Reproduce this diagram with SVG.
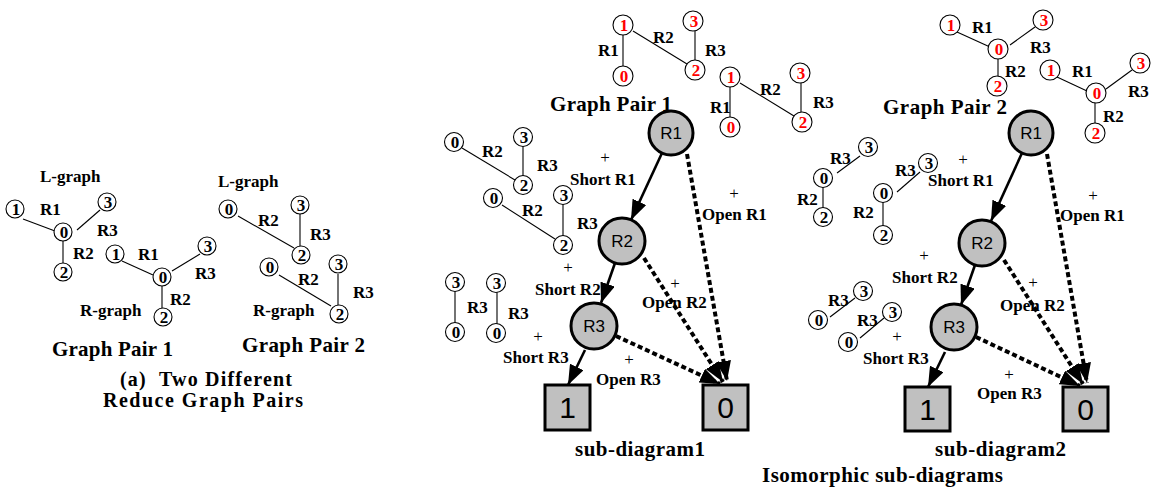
<svg xmlns="http://www.w3.org/2000/svg" width="1157" height="492" viewBox="0 0 1157 492">
  <style>
    .t { font-family: "Liberation Serif", "Times New Roman", serif; font-weight: bold; font-size: 17px; fill: #000; }
    .big { font-size: 21px; }
    .cap { font-size: 20px; }
    .plus { font-family: "Liberation Serif", "Times New Roman", serif; font-size: 17px; text-anchor: middle; fill: #000; }
    .d { font-family: "Liberation Serif", "Times New Roman", serif; font-weight: bold; font-size: 17px; text-anchor: middle; fill: #000; }
    .red { fill: #ff0000; }
    .sc { fill: #fff; stroke: #000; stroke-width: 1.1; }
    .e { stroke: #000; stroke-width: 1.1; fill: none; }
    .node { fill: #c0c0c0; stroke: #000; stroke-width: 3; }
    .nl { font-family: "Liberation Sans", Arial, sans-serif; font-size: 17px; text-anchor: middle; fill: #000; }
    .bl { font-family: "Liberation Sans", Arial, sans-serif; font-size: 30px; text-anchor: middle; fill: #000; }
    .solid { stroke: #000; stroke-width: 2.6; fill: none; marker-end: url(#head); }
    .dash { stroke: #000; stroke-width: 4; stroke-dasharray: 5 3; fill: none; marker-end: url(#head); }
  </style>
  <defs>
    <marker id="head" viewBox="0 0 20 15" refX="20" refY="7.5" markerWidth="20" markerHeight="15" markerUnits="userSpaceOnUse" orient="auto">
      <path d="M0,0 L20,7.5 L0,15 z" fill="#000"/>
    </marker>
  </defs>
  <rect width="1157" height="492" fill="#fff"/>

  <!-- (a) two reduce graph pairs -->
  <g id="pair1-lgraph">
    <text class="t" x="40" y="182">L-graph</text>
    <line class="e" x1="23" y1="219" x2="55" y2="231"/>
    <line class="e" x1="77" y1="230" x2="100" y2="210"/>
    <line class="e" x1="63" y1="241" x2="63" y2="263"/>
    <circle class="sc" cx="15" cy="209" r="9"/><text class="d" x="16" y="215">1</text>
    <circle class="sc" cx="63" cy="232" r="9"/><text class="d" x="64" y="238">0</text>
    <circle class="sc" cx="107" cy="202" r="9"/><text class="d" x="108" y="208">3</text>
    <circle class="sc" cx="63" cy="272" r="9"/><text class="d" x="64" y="278">2</text>
    <text class="t" x="40" y="215">R1</text>
    <text class="t" x="97" y="236">R3</text>
    <text class="t" x="73" y="259">R2</text>
  </g>
  <g id="pair1-rgraph">
    <line class="e" x1="122" y1="261" x2="153" y2="275"/>
    <line class="e" x1="172" y1="271" x2="200" y2="254"/>
    <line class="e" x1="162" y1="286" x2="162" y2="308"/>
    <circle class="sc" cx="115" cy="254" r="9"/><text class="d" x="116" y="260">1</text>
    <circle class="sc" cx="162" cy="277" r="9"/><text class="d" x="163" y="283">0</text>
    <circle class="sc" cx="207" cy="246" r="9"/><text class="d" x="208" y="252">3</text>
    <circle class="sc" cx="163" cy="317" r="9"/><text class="d" x="164" y="323">2</text>
    <text class="t" x="138" y="260">R1</text>
    <text class="t" x="195" y="279">R3</text>
    <text class="t" x="170" y="305">R2</text>
    <text class="t" x="80" y="316">R-graph</text>
  </g>
  <g id="pair2-lgraph">
    <text class="t" x="218" y="187">L-graph</text>
    <line class="e" x1="238" y1="216" x2="294" y2="248"/>
    <line class="e" x1="300" y1="214" x2="300" y2="246"/>
    <circle class="sc" cx="228" cy="209" r="9"/><text class="d" x="229" y="215">0</text>
    <circle class="sc" cx="300" cy="205" r="9"/><text class="d" x="301" y="211">3</text>
    <circle class="sc" cx="301" cy="255" r="9"/><text class="d" x="302" y="261">2</text>
    <text class="t" x="258" y="226">R2</text>
    <text class="t" x="310" y="240">R3</text>
  </g>
  <g id="pair2-rgraph">
    <line class="e" x1="279" y1="275" x2="331" y2="306"/>
    <line class="e" x1="338" y1="274" x2="338" y2="305"/>
    <circle class="sc" cx="269" cy="267" r="9"/><text class="d" x="270" y="273">0</text>
    <circle class="sc" cx="338" cy="264" r="9"/><text class="d" x="339" y="270">3</text>
    <circle class="sc" cx="339" cy="314" r="9"/><text class="d" x="340" y="320">2</text>
    <text class="t" x="298" y="285">R2</text>
    <text class="t" x="353" y="298">R3</text>
    <text class="t" x="253" y="316">R-graph</text>
  </g>
  <g id="caption-a">
    <text class="t big" x="52" y="356" textLength="121">Graph Pair 1</text>
    <text class="t big" x="242" y="352" textLength="123">Graph Pair 2</text>
    <text class="t cap" x="120" y="386" textLength="172" xml:space="preserve">(a)  Two Different</text>
    <text class="t cap" x="103" y="407" textLength="200">Reduce Graph Pairs</text>
  </g>

  <!-- sub-diagram 1: small graphs -->
  <g id="s1-pair-a">
    <line class="e" x1="623" y1="35" x2="623" y2="66"/>
    <line class="e" x1="633" y1="31" x2="687" y2="64"/>
    <line class="e" x1="695" y1="31" x2="695" y2="60"/>
    <circle class="sc" cx="623" cy="25" r="10"/><text class="d red" x="624" y="31">1</text>
    <circle class="sc" cx="693" cy="21" r="10"/><text class="d red" x="694" y="27">3</text>
    <circle class="sc" cx="623" cy="76" r="10"/><text class="d red" x="624" y="82">0</text>
    <circle class="sc" cx="695" cy="70" r="10"/><text class="d red" x="696" y="76">2</text>
    <text class="t" x="598" y="56">R1</text>
    <text class="t" x="653" y="43">R2</text>
    <text class="t" x="705" y="56">R3</text>
  </g>
  <g id="s1-pair-b">
    <line class="e" x1="730" y1="87" x2="730" y2="117"/>
    <line class="e" x1="740" y1="83" x2="794" y2="116"/>
    <line class="e" x1="801" y1="83" x2="801" y2="112"/>
    <circle class="sc" cx="730" cy="77" r="10"/><text class="d red" x="731" y="83">1</text>
    <circle class="sc" cx="800" cy="73" r="10"/><text class="d red" x="801" y="79">3</text>
    <circle class="sc" cx="730" cy="127" r="10"/><text class="d red" x="731" y="133">0</text>
    <circle class="sc" cx="802" cy="122" r="10"/><text class="d red" x="803" y="128">2</text>
    <text class="t" x="710" y="113">R1</text>
    <text class="t" x="760" y="95">R2</text>
    <text class="t" x="813" y="108">R3</text>
  </g>
  <text class="t big" x="550" y="111" textLength="122">Graph Pair 1</text>
  <g id="s1-frag-1">
    <line class="e" x1="462" y1="148" x2="515" y2="180"/>
    <line class="e" x1="523" y1="146" x2="523" y2="176"/>
    <circle class="sc" cx="454" cy="142" r="9.5"/><text class="d" x="455" y="148">0</text>
    <circle class="sc" cx="523" cy="137" r="9.5"/><text class="d" x="524" y="143">3</text>
    <circle class="sc" cx="523" cy="185" r="9.5"/><text class="d" x="524" y="191">2</text>
    <text class="t" x="482" y="157">R2</text>
    <text class="t" x="537" y="171">R3</text>
  </g>
  <g id="s1-frag-2">
    <line class="e" x1="502" y1="205" x2="555" y2="239"/>
    <line class="e" x1="563" y1="204" x2="563" y2="236"/>
    <circle class="sc" cx="493" cy="198" r="9.5"/><text class="d" x="494" y="204">0</text>
    <circle class="sc" cx="563" cy="195" r="9.5"/><text class="d" x="564" y="201">3</text>
    <circle class="sc" cx="563" cy="245" r="9.5"/><text class="d" x="564" y="251">2</text>
    <text class="t" x="522" y="216">R2</text>
    <text class="t" x="577" y="229">R3</text>
  </g>
  <g id="s1-frag-3">
    <line class="e" x1="455" y1="291" x2="455" y2="323"/>
    <circle class="sc" cx="455" cy="282" r="9.5"/><text class="d" x="456" y="288">3</text>
    <circle class="sc" cx="455" cy="332" r="9.5"/><text class="d" x="456" y="338">0</text>
    <text class="t" x="467" y="313">R3</text>
  </g>
  <g id="s1-frag-4">
    <line class="e" x1="497" y1="292" x2="497" y2="324"/>
    <circle class="sc" cx="496" cy="283" r="9.5"/><text class="d" x="497" y="289">3</text>
    <circle class="sc" cx="496" cy="333" r="9.5"/><text class="d" x="497" y="339">0</text>
    <text class="t" x="508" y="319">R3</text>
  </g>

  <!-- sub-diagram 2: small graphs -->
  <g id="s2-pair-a">
    <line class="e" x1="957" y1="32" x2="990" y2="47"/>
    <line class="e" x1="1010" y1="45" x2="1035" y2="27"/>
    <line class="e" x1="998" y1="58" x2="998" y2="77"/>
    <circle class="sc" cx="950" cy="25" r="10"/><text class="d red" x="951" y="31">1</text>
    <circle class="sc" cx="998" cy="49" r="10"/><text class="d red" x="999" y="55">0</text>
    <circle class="sc" cx="1043" cy="20" r="10"/><text class="d red" x="1044" y="26">3</text>
    <circle class="sc" cx="997" cy="86" r="10"/><text class="d red" x="998" y="92">2</text>
    <text class="t" x="972" y="33">R1</text>
    <text class="t" x="1030" y="53">R3</text>
    <text class="t" x="1005" y="77">R2</text>
  </g>
  <g id="s2-pair-b">
    <line class="e" x1="1057" y1="77" x2="1087" y2="91"/>
    <line class="e" x1="1106" y1="89" x2="1132" y2="70"/>
    <line class="e" x1="1095" y1="102" x2="1095" y2="124"/>
    <circle class="sc" cx="1050" cy="70" r="10"/><text class="d red" x="1051" y="76">1</text>
    <circle class="sc" cx="1096" cy="93" r="10"/><text class="d red" x="1097" y="99">0</text>
    <circle class="sc" cx="1140" cy="63" r="10"/><text class="d red" x="1141" y="69">3</text>
    <circle class="sc" cx="1095" cy="133" r="10"/><text class="d red" x="1096" y="139">2</text>
    <text class="t" x="1072" y="77">R1</text>
    <text class="t" x="1128" y="97">R3</text>
    <text class="t" x="1103" y="122">R2</text>
  </g>
  <text class="t big" x="883" y="114" textLength="124">Graph Pair 2</text>
  <g id="s2-frag-1">
    <line class="e" x1="837" y1="173" x2="860" y2="156"/>
    <line class="e" x1="823" y1="187" x2="823" y2="208"/>
    <circle class="sc" cx="868" cy="147" r="9.5"/><text class="d" x="869" y="153">3</text>
    <circle class="sc" cx="823" cy="178" r="9.5"/><text class="d" x="824" y="184">0</text>
    <circle class="sc" cx="823" cy="217" r="9.5"/><text class="d" x="824" y="223">2</text>
    <text class="t" x="830" y="164">R3</text>
    <text class="t" x="797" y="205">R2</text>
  </g>
  <g id="s2-frag-2">
    <line class="e" x1="897" y1="192" x2="920" y2="172"/>
    <line class="e" x1="883" y1="202" x2="883" y2="226"/>
    <circle class="sc" cx="928" cy="163" r="9.5"/><text class="d" x="929" y="169">3</text>
    <circle class="sc" cx="883" cy="193" r="9.5"/><text class="d" x="884" y="199">0</text>
    <circle class="sc" cx="883" cy="235" r="9.5"/><text class="d" x="884" y="241">2</text>
    <text class="t" x="895" y="176">R3</text>
    <text class="t" x="853" y="218">R2</text>
  </g>
  <g id="s2-frag-3">
    <line class="e" x1="830" y1="317" x2="855" y2="298"/>
    <circle class="sc" cx="863" cy="291" r="9.5"/><text class="d" x="864" y="297">3</text>
    <circle class="sc" cx="818" cy="320" r="9.5"/><text class="d" x="819" y="326">0</text>
    <text class="t" x="828" y="306">R3</text>
  </g>
  <g id="s2-frag-4">
    <line class="e" x1="860" y1="338" x2="884" y2="318"/>
    <circle class="sc" cx="892" cy="312" r="9.5"/><text class="d" x="893" y="318">3</text>
    <circle class="sc" cx="848" cy="342" r="9.5"/><text class="d" x="849" y="348">0</text>
    <text class="t" x="857" y="326">R3</text>
  </g>

  <!-- connectors of both sub-diagrams -->
  <g id="connectors">
    <line class="solid" x1="662" y1="153" x2="631" y2="220"/>
    <line class="solid" x1="615" y1="263" x2="601" y2="303"/>
    <line class="solid" x1="585" y1="350" x2="568" y2="385"/>
    <line class="dash" x1="687" y1="154" x2="727" y2="381"/>
    <line class="dash" x1="644" y1="258" x2="723" y2="382"/>
    <line class="dash" x1="616" y1="336" x2="720" y2="384"/>

    <line class="solid" x1="1022" y1="153" x2="991" y2="221"/>
    <line class="solid" x1="975" y1="265" x2="961" y2="305"/>
    <line class="solid" x1="945" y1="352" x2="928" y2="387"/>
    <line class="dash" x1="1047" y1="154" x2="1087" y2="383"/>
    <line class="dash" x1="1004" y1="260" x2="1083" y2="384"/>
    <line class="dash" x1="976" y1="337" x2="1080" y2="386"/>
  </g>

  <!-- connector labels -->
  <g id="labels-s1">
    <text class="plus" x="605" y="163">+</text><text class="t" x="570" y="185">Short R1</text>
    <text class="plus" x="734" y="199">+</text><text class="t" x="702" y="220">Open R1</text>
    <text class="plus" x="568" y="273">+</text><text class="t" x="535" y="295">Short R2</text>
    <text class="plus" x="675" y="289">+</text><text class="t" x="642" y="308">Open R2</text>
    <text class="plus" x="538" y="342">+</text><text class="t" x="503" y="363">Short R3</text>
    <text class="plus" x="629" y="365">+</text><text class="t" x="596" y="385">Open R3</text>
  </g>
  <g id="labels-s2">
    <text class="plus" x="963" y="165">+</text><text class="t" x="928" y="186">Short R1</text>
    <text class="plus" x="1093" y="201">+</text><text class="t" x="1060" y="221">Open R1</text>
    <text class="plus" x="924" y="261">+</text><text class="t" x="892" y="283">Short R2</text>
    <text class="plus" x="1033" y="288">+</text><text class="t" x="1000" y="311">Open R2</text>
    <text class="plus" x="897" y="342">+</text><text class="t" x="863" y="364">Short R3</text>
    <text class="plus" x="1009" y="380">+</text><text class="t" x="977" y="399">Open R3</text>
  </g>

  <!-- decision nodes, sub-diagram 1 -->
  <g id="s1-R1"><circle class="node" cx="671" cy="133" r="22"/><text class="nl" x="671" y="139">R1</text></g>
  <g id="s1-R2"><circle class="node" cx="622" cy="241" r="23"/><text class="nl" x="622" y="247">R2</text></g>
  <g id="s1-R3"><circle class="node" cx="594" cy="326" r="23"/><text class="nl" x="594" y="332">R3</text></g>
  <g id="s1-T1"><rect class="node" x="545" y="385" width="45" height="45"/><text class="bl" x="567.5" y="418">1</text></g>
  <g id="s1-T0"><rect class="node" x="703" y="385" width="45" height="45"/><text class="bl" x="725.5" y="418">0</text></g>

  <!-- decision nodes, sub-diagram 2 -->
  <g id="s2-R1"><circle class="node" cx="1031" cy="133" r="22"/><text class="nl" x="1031" y="139">R1</text></g>
  <g id="s2-R2"><circle class="node" cx="982" cy="243" r="23"/><text class="nl" x="982" y="249">R2</text></g>
  <g id="s2-R3"><circle class="node" cx="954" cy="327" r="23"/><text class="nl" x="954" y="333">R3</text></g>
  <g id="s2-T1"><rect class="node" x="905" y="387" width="45" height="44"/><text class="bl" x="927.5" y="420">1</text></g>
  <g id="s2-T0"><rect class="node" x="1063" y="387" width="45" height="44"/><text class="bl" x="1085.5" y="420">0</text></g>

  <g id="captions-b">
    <text class="t big" x="575" y="456" textLength="130">sub-diagram1</text>
    <text class="t big" x="935" y="456" textLength="131">sub-diagram2</text>
    <text class="t big" x="762" y="482" textLength="241">Isomorphic sub-diagrams</text>
  </g>
</svg>
